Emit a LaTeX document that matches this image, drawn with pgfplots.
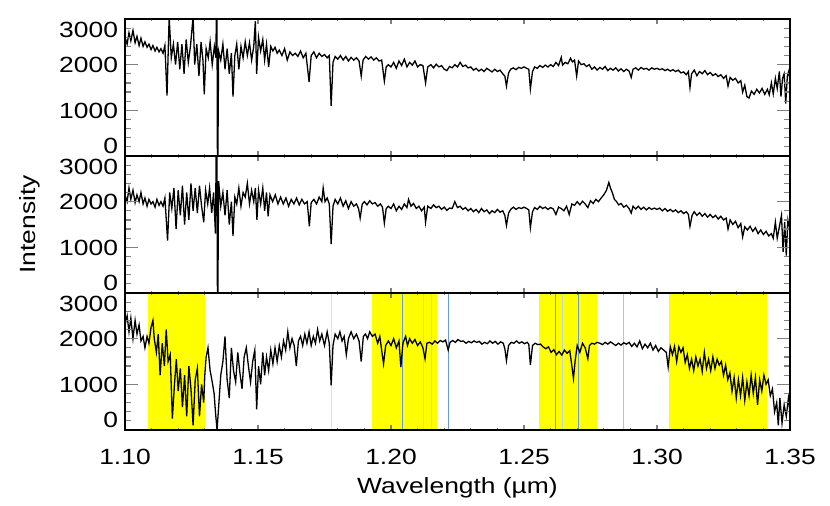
\documentclass[border=0pt]{standalone}
\usepackage{fontspec}
\setmainfont[FakeStretch=1.2]{Liberation Sans}
\usepackage{pgfplots}
\usepackage{pgfplotstable}
\pgfplotsset{compat=1.18}

\definecolor{maskyellow}{RGB}{255,255,0}
\definecolor{bluemid}{RGB}{105,155,210}
\definecolor{bluelight}{RGB}{165,200,230}
\definecolor{bluefaint}{RGB}{195,215,210}
\definecolor{bluepale}{RGB}{215,228,238}

% spectrum, panel 1
\pgfplotstableread[row sep=\\]{
x y\\
1.1000 2600\\ 1.1008 2450\\ 1.1015 2700\\ 1.1022 2520\\ 1.1030 2750\\ 1.1038 2480\\ 1.1045 2620\\ 1.1053 2420\\
1.1060 2580\\ 1.1068 2400\\ 1.1075 2500\\ 1.1083 2380\\ 1.1090 2450\\ 1.1098 2330\\ 1.1105 2420\\ 1.1113 2300\\
1.1120 2380\\ 1.1128 2280\\ 1.1135 2350\\ 1.1143 2250\\ 1.1150 2420\\ 1.1158 1320\\ 1.1166 3050\\ 1.1174 2150\\
1.1182 2450\\ 1.1190 2000\\ 1.1198 2500\\ 1.1206 1900\\ 1.1214 2450\\ 1.1222 1800\\ 1.1230 2550\\ 1.1238 2050\\
1.1246 2400\\ 1.1256 3050\\ 1.1262 2000\\ 1.1270 2450\\ 1.1278 1750\\ 1.1286 2500\\ 1.1293 2100\\ 1.1298 1350\\
1.1305 2350\\ 1.1313 2150\\ 1.1320 2500\\ 1.1328 2000\\ 1.1336 2400\\ 1.1342 2150\\ 1.1345 4500\\ 1.1348 -1000\\
1.1352 2300\\ 1.1360 2100\\ 1.1368 2450\\ 1.1376 1900\\ 1.1384 2350\\ 1.1392 1800\\ 1.1400 2250\\ 1.1406 1300\\
1.1413 2200\\ 1.1420 2450\\ 1.1428 1900\\ 1.1436 2400\\ 1.1444 2150\\ 1.1452 2500\\ 1.1460 2200\\ 1.1468 2480\\
1.1476 2100\\ 1.1484 2400\\ 1.1490 2950\\ 1.1495 1800\\ 1.1502 2600\\ 1.1510 2300\\ 1.1518 2550\\ 1.1525 2100\\
1.1532 2450\\ 1.1540 1950\\ 1.1548 2400\\ 1.1556 2300\\ 1.1564 2380\\ 1.1572 2250\\ 1.1580 2320\\ 1.1590 2200\\
1.1600 2350\\ 1.1610 2100\\ 1.1620 2280\\ 1.1630 2200\\ 1.1640 2250\\ 1.1650 2180\\ 1.1660 2300\\ 1.1670 2150\\
1.1680 2250\\ 1.1692 1620\\ 1.1700 2200\\ 1.1710 2280\\ 1.1720 2150\\ 1.1730 2250\\ 1.1740 2180\\ 1.1750 2220\\
1.1760 2150\\ 1.1768 2200\\ 1.1775 1100\\ 1.1782 2050\\ 1.1790 2180\\ 1.1800 2120\\ 1.1810 2200\\ 1.1820 2100\\
1.1830 2180\\ 1.1840 2080\\ 1.1850 2160\\ 1.1860 2100\\ 1.1870 2150\\ 1.1880 2080\\ 1.1888 1750\\ 1.1895 2100\\
1.1905 2180\\ 1.1915 2120\\ 1.1925 2170\\ 1.1935 2100\\ 1.1945 2150\\ 1.1955 2080\\ 1.1965 2100\\ 1.1975 1640\\
1.1982 1950\\ 1.1990 2000\\ 1.2000 1950\\ 1.2010 2050\\ 1.2020 1920\\ 1.2030 2080\\ 1.2040 1980\\ 1.2050 2120\\
1.2060 1950\\ 1.2070 2050\\ 1.2080 1990\\ 1.2090 2080\\ 1.2100 1950\\ 1.2110 2000\\ 1.2120 1980\\ 1.2130 1600\\
1.2138 1950\\ 1.2150 2000\\ 1.2160 1930\\ 1.2170 2010\\ 1.2180 1950\\ 1.2190 1980\\ 1.2200 1900\\ 1.2210 1870\\
1.2220 1960\\ 1.2230 1930\\ 1.2240 2000\\ 1.2250 1950\\ 1.2260 2050\\ 1.2270 1960\\ 1.2280 1990\\ 1.2290 1930\\
1.2300 1950\\ 1.2310 1880\\ 1.2320 1920\\ 1.2330 1860\\ 1.2340 1900\\ 1.2350 1850\\ 1.2360 1920\\ 1.2370 1880\\
1.2380 1840\\ 1.2390 1900\\ 1.2400 1850\\ 1.2410 1880\\ 1.2420 1800\\ 1.2428 1750\\ 1.2434 1530\\ 1.2442 1820\\
1.2450 1900\\ 1.2460 1930\\ 1.2470 1890\\ 1.2480 1940\\ 1.2490 1920\\ 1.2500 1950\\ 1.2510 1920\\ 1.2518 1900\\
1.2524 1470\\ 1.2532 1850\\ 1.2540 1950\\ 1.2550 1920\\ 1.2560 1980\\ 1.2570 1940\\ 1.2580 1990\\ 1.2590 1950\\
1.2600 2000\\ 1.2610 1960\\ 1.2620 2050\\ 1.2630 1980\\ 1.2640 2160\\ 1.2645 1990\\ 1.2655 2050\\ 1.2665 2020\\
1.2675 2140\\ 1.2682 2060\\ 1.2690 2100\\ 1.2698 1750\\ 1.2705 2080\\ 1.2715 2000\\ 1.2725 2020\\ 1.2735 1960\\
1.2745 2000\\ 1.2755 1900\\ 1.2765 1950\\ 1.2775 1880\\ 1.2785 1940\\ 1.2795 1900\\ 1.2805 1960\\ 1.2815 1870\\
1.2825 1920\\ 1.2835 1880\\ 1.2845 1930\\ 1.2855 1860\\ 1.2865 1910\\ 1.2875 1850\\ 1.2885 1900\\ 1.2895 1860\\
1.2903 1720\\ 1.2910 1900\\ 1.2920 1930\\ 1.2930 1880\\ 1.2940 1940\\ 1.2950 1900\\ 1.2960 1920\\ 1.2970 1880\\
1.2980 1930\\ 1.2990 1900\\ 1.3000 1920\\ 1.3010 1890\\ 1.3020 1910\\ 1.3030 1870\\ 1.3040 1900\\ 1.3050 1860\\
1.3060 1890\\ 1.3070 1850\\ 1.3080 1880\\ 1.3090 1820\\ 1.3100 1840\\ 1.3110 1780\\ 1.3118 1850\\ 1.3124 1500\\
1.3130 1800\\ 1.3140 1880\\ 1.3150 1760\\ 1.3160 1850\\ 1.3170 1800\\ 1.3180 1870\\ 1.3190 1780\\ 1.3200 1830\\
1.3210 1760\\ 1.3220 1800\\ 1.3230 1740\\ 1.3240 1780\\ 1.3250 1700\\ 1.3260 1760\\ 1.3267 1530\\ 1.3275 1720\\
1.3285 1660\\ 1.3295 1700\\ 1.3305 1600\\ 1.3315 1650\\ 1.3322 1400\\ 1.3330 1550\\ 1.3338 1300\\ 1.3346 1270\\
1.3355 1420\\ 1.3365 1350\\ 1.3375 1460\\ 1.3385 1380\\ 1.3395 1480\\ 1.3405 1350\\ 1.3415 1460\\ 1.3422 1340\\
1.3430 1600\\ 1.3437 1360\\ 1.3445 1700\\ 1.3452 1480\\ 1.3460 1850\\ 1.3466 1300\\ 1.3472 1700\\ 1.3478 1800\\
1.3484 1150\\ 1.3490 1750\\ 1.3495 1850\\ 1.3500 1650\\
}\toptab

% spectrum, panel 2
\pgfplotstableread[row sep=\\]{
x y\\
1.1000 2150\\ 1.1008 2000\\ 1.1015 2300\\ 1.1022 2050\\ 1.1030 2250\\ 1.1038 1980\\ 1.1045 2150\\ 1.1053 2000\\
1.1060 2200\\ 1.1068 1950\\ 1.1075 2080\\ 1.1083 1900\\ 1.1090 2050\\ 1.1098 1950\\ 1.1105 2000\\ 1.1113 1880\\
1.1120 2050\\ 1.1128 1920\\ 1.1135 2000\\ 1.1143 1900\\ 1.1150 2080\\ 1.1160 1150\\ 1.1168 2200\\ 1.1176 1850\\
1.1184 2300\\ 1.1192 1400\\ 1.1200 2250\\ 1.1208 1700\\ 1.1216 2350\\ 1.1224 1500\\ 1.1232 2200\\ 1.1240 1600\\
1.1248 2400\\ 1.1256 1800\\ 1.1264 2300\\ 1.1272 1750\\ 1.1280 2350\\ 1.1288 1900\\ 1.1296 1550\\ 1.1303 2250\\
1.1311 1950\\ 1.1318 2300\\ 1.1326 1750\\ 1.1333 2200\\ 1.1340 1300\\ 1.1345 4500\\ 1.1348 -1000\\ 1.1352 2450\\
1.1360 1900\\ 1.1368 2200\\ 1.1376 1700\\ 1.1384 2250\\ 1.1392 1500\\ 1.1400 2000\\ 1.1406 1250\\ 1.1413 2100\\
1.1420 1950\\ 1.1428 2300\\ 1.1436 1900\\ 1.1444 2200\\ 1.1452 2100\\ 1.1460 2400\\ 1.1468 1950\\ 1.1476 2250\\
1.1484 2000\\ 1.1490 2300\\ 1.1496 1600\\ 1.1502 2250\\ 1.1510 1950\\ 1.1518 2300\\ 1.1525 1800\\ 1.1532 2200\\
1.1538 1680\\ 1.1545 2150\\ 1.1555 2000\\ 1.1565 2150\\ 1.1575 1950\\ 1.1585 2100\\ 1.1595 1950\\ 1.1605 2080\\
1.1615 1900\\ 1.1625 2050\\ 1.1635 1950\\ 1.1645 2080\\ 1.1655 1930\\ 1.1665 2050\\ 1.1675 1950\\ 1.1685 2000\\
1.1693 1460\\ 1.1700 1980\\ 1.1710 2050\\ 1.1720 1950\\ 1.1730 2100\\ 1.1740 2000\\ 1.1745 2300\\ 1.1752 2000\\
1.1760 2080\\ 1.1768 1950\\ 1.1775 1070\\ 1.1782 1900\\ 1.1790 2050\\ 1.1800 1950\\ 1.1810 2080\\ 1.1820 1900\\
1.1830 2020\\ 1.1840 1850\\ 1.1850 2000\\ 1.1860 1900\\ 1.1870 1950\\ 1.1878 1850\\ 1.1884 1640\\ 1.1892 1950\\
1.1900 2000\\ 1.1910 1930\\ 1.1920 2020\\ 1.1930 1950\\ 1.1940 1980\\ 1.1950 1900\\ 1.1960 1950\\ 1.1968 1880\\
1.1975 1530\\ 1.1982 1850\\ 1.1990 1900\\ 1.2000 1850\\ 1.2010 1950\\ 1.2020 1800\\ 1.2030 1900\\ 1.2040 1830\\
1.2050 1950\\ 1.2060 1870\\ 1.2066 2050\\ 1.2075 1900\\ 1.2085 1960\\ 1.2095 1850\\ 1.2105 1900\\ 1.2115 1800\\
1.2125 1880\\ 1.2130 1550\\ 1.2138 1900\\ 1.2150 1850\\ 1.2160 1930\\ 1.2170 1870\\ 1.2180 1900\\ 1.2190 1830\\
1.2200 1880\\ 1.2210 1810\\ 1.2220 1860\\ 1.2230 1850\\ 1.2240 2000\\ 1.2250 1870\\ 1.2260 1900\\ 1.2270 1830\\
1.2280 1870\\ 1.2290 1800\\ 1.2300 1850\\ 1.2310 1780\\ 1.2320 1830\\ 1.2330 1760\\ 1.2340 1850\\ 1.2350 1780\\
1.2360 1820\\ 1.2370 1740\\ 1.2380 1800\\ 1.2390 1760\\ 1.2400 1830\\ 1.2410 1770\\ 1.2420 1800\\ 1.2428 1700\\
1.2434 1480\\ 1.2442 1750\\ 1.2450 1830\\ 1.2460 1880\\ 1.2470 1830\\ 1.2480 1870\\ 1.2490 1850\\ 1.2500 1880\\
1.2510 1850\\ 1.2518 1820\\ 1.2524 1430\\ 1.2532 1780\\ 1.2540 1870\\ 1.2550 1830\\ 1.2560 1900\\ 1.2570 1850\\
1.2580 1880\\ 1.2590 1830\\ 1.2600 1870\\ 1.2610 1840\\ 1.2620 1720\\ 1.2630 1880\\ 1.2640 1850\\ 1.2650 1800\\
1.2660 1900\\ 1.2670 1720\\ 1.2680 1950\\ 1.2690 1920\\ 1.2700 2000\\ 1.2710 1930\\ 1.2720 2010\\ 1.2730 1950\\
1.2740 1870\\ 1.2750 2020\\ 1.2760 1960\\ 1.2770 2050\\ 1.2780 2000\\ 1.2790 2080\\ 1.2800 2150\\ 1.2810 2250\\
1.2819 2420\\ 1.2825 2300\\ 1.2832 2200\\ 1.2840 2050\\ 1.2848 2000\\ 1.2856 1930\\ 1.2865 1960\\ 1.2875 1880\\
1.2885 1920\\ 1.2895 1850\\ 1.2903 1750\\ 1.2910 1900\\ 1.2920 1840\\ 1.2930 1900\\ 1.2940 1830\\ 1.2950 1880\\
1.2960 1820\\ 1.2970 1870\\ 1.2980 1830\\ 1.2990 1860\\ 1.3000 1830\\ 1.3010 1860\\ 1.3020 1800\\ 1.3030 1850\\
1.3040 1790\\ 1.3050 1830\\ 1.3060 1780\\ 1.3070 1820\\ 1.3080 1760\\ 1.3090 1800\\ 1.3100 1740\\ 1.3110 1780\\
1.3118 1720\\ 1.3124 1460\\ 1.3132 1700\\ 1.3140 1780\\ 1.3150 1700\\ 1.3160 1760\\ 1.3170 1680\\ 1.3180 1740\\
1.3190 1660\\ 1.3200 1720\\ 1.3210 1650\\ 1.3220 1700\\ 1.3230 1620\\ 1.3240 1680\\ 1.3250 1600\\ 1.3260 1640\\
1.3267 1400\\ 1.3275 1600\\ 1.3285 1500\\ 1.3295 1570\\ 1.3305 1430\\ 1.3315 1520\\ 1.3322 1230\\ 1.3330 1450\\
1.3340 1380\\ 1.3350 1460\\ 1.3360 1350\\ 1.3370 1430\\ 1.3380 1300\\ 1.3390 1380\\ 1.3400 1280\\ 1.3410 1350\\
1.3420 1250\\ 1.3430 1300\\ 1.3437 1200\\ 1.3445 1550\\ 1.3452 1200\\ 1.3460 1450\\ 1.3468 1700\\ 1.3474 900\\
1.3480 1550\\ 1.3486 820\\ 1.3492 1600\\ 1.3500 1400\\
}\midtab

% spectrum, panel 3
\pgfplotstableread[row sep=\\]{
x y\\
1.1000 2300\\ 1.1008 2500\\ 1.1015 2150\\ 1.1022 2450\\ 1.1030 2000\\ 1.1038 2400\\ 1.1045 2100\\ 1.1053 2300\\
1.1060 1950\\ 1.1068 2050\\ 1.1075 1800\\ 1.1083 2050\\ 1.1090 1900\\ 1.1098 2250\\ 1.1105 2400\\ 1.1110 2000\\
1.1118 1700\\ 1.1125 2100\\ 1.1132 1200\\ 1.1140 1900\\ 1.1148 1400\\ 1.1155 2200\\ 1.1162 1500\\ 1.1170 1650\\
1.1178 250\\ 1.1186 1000\\ 1.1193 1550\\ 1.1200 850\\ 1.1208 1350\\ 1.1216 500\\ 1.1224 1200\\ 1.1232 300\\
1.1240 1400\\ 1.1248 900\\ 1.1256 100\\ 1.1264 1100\\ 1.1272 1350\\ 1.1280 300\\ 1.1288 1000\\ 1.1296 600\\
1.1300 1200\\ 1.1305 1600\\ 1.1312 1800\\ 1.1320 1300\\ 1.1328 1050\\ 1.1335 800\\ 1.1340 400\\ 1.1346 0\\
1.1352 500\\ 1.1360 1200\\ 1.1368 1500\\ 1.1376 2050\\ 1.1384 1100\\ 1.1392 700\\ 1.1400 1800\\ 1.1408 1300\\
1.1416 1050\\ 1.1424 1700\\ 1.1432 1250\\ 1.1440 900\\ 1.1448 1600\\ 1.1456 1800\\ 1.1464 1400\\ 1.1472 1050\\
1.1480 1500\\ 1.1488 1750\\ 1.1495 450\\ 1.1502 1400\\ 1.1510 1000\\ 1.1518 1700\\ 1.1525 1200\\ 1.1532 1600\\
1.1540 1300\\ 1.1548 1750\\ 1.1556 1450\\ 1.1564 1800\\ 1.1572 1500\\ 1.1580 1850\\ 1.1588 1600\\ 1.1596 1950\\
1.1604 1750\\ 1.1612 2150\\ 1.1620 1800\\ 1.1628 2000\\ 1.1636 1850\\ 1.1644 1400\\ 1.1652 1950\\ 1.1660 2050\\
1.1668 1850\\ 1.1676 2100\\ 1.1684 1900\\ 1.1692 2150\\ 1.1700 1850\\ 1.1708 2050\\ 1.1716 1900\\ 1.1724 2200\\
1.1732 1950\\ 1.1740 2100\\ 1.1750 1850\\ 1.1760 2150\\ 1.1768 1900\\ 1.1775 980\\ 1.1782 1850\\ 1.1790 2100\\
1.1800 2000\\ 1.1808 2150\\ 1.1816 1950\\ 1.1824 2050\\ 1.1832 1650\\ 1.1840 2000\\ 1.1850 2150\\ 1.1860 2000\\
1.1870 2100\\ 1.1880 1950\\ 1.1888 1500\\ 1.1896 2050\\ 1.1904 2100\\ 1.1912 2000\\ 1.1920 2150\\ 1.1930 2050\\
1.1940 2100\\ 1.1950 1900\\ 1.1958 2050\\ 1.1966 1700\\ 1.1972 1450\\ 1.1980 1850\\ 1.1990 1950\\ 1.2000 1850\\
1.2010 2000\\ 1.2020 1800\\ 1.2030 1950\\ 1.2037 1380\\ 1.2045 1900\\ 1.2055 2050\\ 1.2062 1850\\ 1.2070 2000\\
1.2080 1900\\ 1.2090 1980\\ 1.2100 1850\\ 1.2110 1930\\ 1.2120 1800\\ 1.2128 1560\\ 1.2135 1900\\ 1.2145 1920\\
1.2155 1880\\ 1.2165 1950\\ 1.2175 1900\\ 1.2185 1960\\ 1.2195 1930\\ 1.2205 1970\\ 1.2215 1750\\ 1.2222 1920\\
1.2232 1960\\ 1.2242 1920\\ 1.2252 1980\\ 1.2262 1940\\ 1.2272 1950\\ 1.2282 1900\\ 1.2292 1940\\ 1.2302 1910\\
1.2312 1950\\ 1.2322 1920\\ 1.2332 1940\\ 1.2342 1880\\ 1.2352 1920\\ 1.2362 1890\\ 1.2372 1950\\ 1.2382 1900\\
1.2392 1940\\ 1.2402 1880\\ 1.2412 1930\\ 1.2422 1900\\ 1.2428 1780\\ 1.2434 1520\\ 1.2442 1850\\ 1.2452 1920\\
1.2462 1900\\ 1.2472 1950\\ 1.2482 1900\\ 1.2492 1930\\ 1.2502 1890\\ 1.2512 1920\\ 1.2518 1880\\ 1.2524 1420\\
1.2532 1850\\ 1.2542 1900\\ 1.2552 1870\\ 1.2562 1880\\ 1.2572 1820\\ 1.2582 1780\\ 1.2592 1820\\ 1.2602 1700\\
1.2612 1760\\ 1.2622 1650\\ 1.2632 1720\\ 1.2642 1640\\ 1.2652 1750\\ 1.2662 1680\\ 1.2672 1740\\ 1.2680 1400\\
1.2686 1130\\ 1.2692 1500\\ 1.2700 1850\\ 1.2710 1700\\ 1.2720 1900\\ 1.2730 1800\\ 1.2740 1560\\ 1.2746 1850\\
1.2755 1900\\ 1.2765 1880\\ 1.2775 1920\\ 1.2785 1900\\ 1.2795 1870\\ 1.2805 1920\\ 1.2815 1880\\ 1.2825 1930\\
1.2835 1890\\ 1.2845 1850\\ 1.2855 1900\\ 1.2865 1860\\ 1.2875 1910\\ 1.2885 1880\\ 1.2895 1920\\ 1.2905 1830\\
1.2915 1900\\ 1.2925 1820\\ 1.2935 1950\\ 1.2945 1780\\ 1.2955 1880\\ 1.2965 1800\\ 1.2975 1900\\ 1.2985 1750\\
1.2995 1850\\ 1.3005 1720\\ 1.3015 1800\\ 1.3025 1750\\ 1.3035 1700\\ 1.3042 1380\\ 1.3050 1820\\ 1.3058 1650\\
1.3066 1830\\ 1.3074 1500\\ 1.3082 1820\\ 1.3090 1700\\ 1.3098 1800\\ 1.3106 1480\\ 1.3114 1650\\ 1.3122 1350\\
1.3130 1550\\ 1.3138 1300\\ 1.3146 1600\\ 1.3154 1400\\ 1.3162 1550\\ 1.3170 1280\\ 1.3178 1700\\ 1.3186 1350\\
1.3194 1550\\ 1.3202 1300\\ 1.3210 1600\\ 1.3218 1350\\ 1.3226 1550\\ 1.3234 1420\\ 1.3242 1500\\ 1.3250 1200\\
1.3258 1420\\ 1.3266 1100\\ 1.3274 1250\\ 1.3282 850\\ 1.3290 1150\\ 1.3298 700\\ 1.3306 1100\\ 1.3314 750\\
1.3322 1150\\ 1.3330 650\\ 1.3338 1050\\ 1.3346 750\\ 1.3354 1200\\ 1.3362 800\\ 1.3370 1150\\ 1.3378 550\\
1.3386 1100\\ 1.3394 850\\ 1.3402 1200\\ 1.3410 1000\\ 1.3418 1100\\ 1.3426 750\\ 1.3434 900\\ 1.3442 400\\
1.3450 600\\ 1.3456 100\\ 1.3462 700\\ 1.3470 150\\ 1.3478 550\\ 1.3486 300\\ 1.3494 700\\ 1.3500 400\\
}\bottab

\pgfplotsset{
  panel/.style={
    scale only axis, width=332.5bp, height=68.5bp,
    anchor=south west,
    xmin=1.10, xmax=1.35, ymin=0, ymax=3000,
    xtick={1.10,1.15,1.20,1.25,1.30,1.35}, minor x tick num=4,
    ytick={0,1000,2000,3000}, minor y tick num=4,
    % end labels sit inside the panel, as in the original
    yticklabel={\ifcase\ticknum \raisebox{1.2bp}[0pt][0pt]{0}\or
      \raisebox{-3.9bp}[0pt][0pt]{1000}\or \raisebox{-3.9bp}[0pt][0pt]{2000}\or
      \raisebox{-9.2bp}[0pt][0pt]{3000}\fi},
    tick align=inside,
    axis line style={line width=0.8bp},
    xtick style={line width=0.6bp, /pgfplots/major tick length=2.4bp},
    minor x tick style={line width=0.6bp, /pgfplots/minor tick length=1.2bp},
    ytick style={line width=0.6bp, /pgfplots/major tick length=6.5bp},
    minor y tick style={line width=0.6bp, /pgfplots/minor tick length=3bp},
    scaled ticks=false,
    /pgf/number format/assume math mode=true,
    xticklabel style={/pgf/number format/fixed, /pgf/number format/fixed zerofill,
                      /pgf/number format/precision=2},
    tick label style={font=\fontsize{11bp}{13bp}\selectfont},
    label style={font=\fontsize{11bp}{13bp}\selectfont},
    axis on top,
  },
  spec/.style={black, line width=0.65bp, mark=none},
}

\begin{document}
\begin{tikzpicture}
\useasboundingbox (0,0) rectangle (415bp,253bp);

\begin{axis}[panel, at={(62.5bp,175bp)}, xticklabels={}]
  \addplot[spec] table {\toptab};
\end{axis}

\begin{axis}[panel, at={(62.5bp,106.5bp)}, xticklabels={},
  ylabel={Intensity},
  ylabel style={at={(axis description cs:-0.1429,0.5)}, anchor=center}]
  \addplot[spec] table {\midtab};
\end{axis}

\begin{axis}[panel, at={(62.5bp,38bp)},
  xticklabel style={yshift=-6bp},
  xlabel={Wavelength (µm)},
  xlabel style={at={(axis description cs:0.5,0)}, yshift=-29bp, anchor=center}]
  % masked wavelength ranges
  \addplot[draw=none, fill=maskyellow] coordinates {(1.1086,-100) (1.1086,3100) (1.1301,3100) (1.1301,-100)} -- cycle;
  \addplot[draw=none, fill=maskyellow] coordinates {(1.1929,-100) (1.1929,3100) (1.2173,3100) (1.2173,-100)} -- cycle;
  \addplot[draw=none, fill=maskyellow] coordinates {(1.2556,-100) (1.2556,3100) (1.2774,3100) (1.2774,-100)} -- cycle;
  \addplot[draw=none, fill=maskyellow] coordinates {(1.3045,-100) (1.3045,3100) (1.3414,3100) (1.3414,-100)} -- cycle;
  % line markers
  \addplot[bluepale, line width=0.5bp] coordinates {(1.1777,-100) (1.1777,3100)};
  \addplot[bluemid, line width=0.5bp] coordinates {(1.2043,-100) (1.2043,3100)};
  \addplot[bluefaint, line width=0.5bp] coordinates {(1.2123,-100) (1.2123,3100)};
  \addplot[bluefaint, line width=0.5bp] coordinates {(1.2152,-100) (1.2152,3100)};
  \addplot[bluemid, line width=0.5bp] coordinates {(1.2215,-100) (1.2215,3100)};
  \addplot[bluemid, line width=0.5bp] coordinates {(1.2618,-100) (1.2618,3100)};
  \addplot[bluefaint, line width=0.5bp] coordinates {(1.2643,-100) (1.2643,3100)};
  \addplot[bluemid, line width=0.5bp] coordinates {(1.2705,-100) (1.2705,3100)};
  \addplot[bluelight, line width=0.5bp] coordinates {(1.2875,-100) (1.2875,3100)};
  \addplot[spec] table {\bottab};
\end{axis}
\end{tikzpicture}
\end{document}
